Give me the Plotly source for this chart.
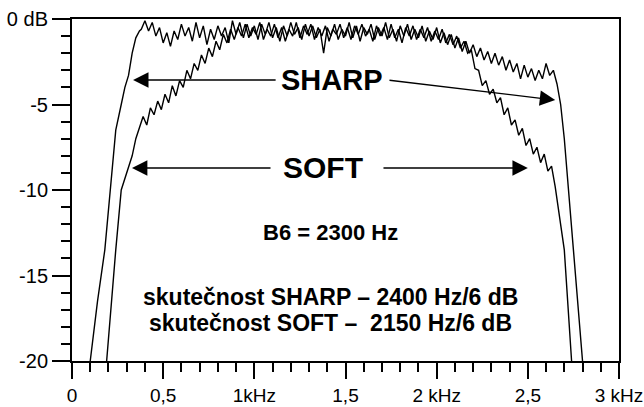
import plotly.graph_objects as go

# ---------------- data ----------------
sharp_f = [0.10, 0.14, 0.18, 0.21, 0.24, 0.27, 0.29, 0.31, 0.33, 0.35, 0.37,
           0.38, 0.40, 0.42, 0.44, 0.46, 0.48, 0.50, 0.52, 0.54, 0.56, 0.58, 0.60,
           0.62, 0.64, 0.66, 0.68, 0.70, 0.72, 0.74, 0.76, 0.78, 0.80, 0.82, 0.84,
           0.86, 0.88, 0.90, 0.92, 0.94, 0.96, 0.98, 1.00, 1.02, 1.04, 1.06, 1.08,
           1.10, 1.12, 1.14, 1.16, 1.18, 1.20, 1.22, 1.24, 1.26, 1.28, 1.30, 1.32,
           1.34, 1.36, 1.38, 1.40, 1.42, 1.44, 1.46, 1.48, 1.50, 1.52, 1.54, 1.56,
           1.58, 1.60, 1.62, 1.64, 1.66, 1.68, 1.70, 1.72, 1.74, 1.76, 1.78, 1.80,
           1.82, 1.84, 1.86, 1.88, 1.90, 1.92, 1.94, 1.96, 1.98, 2.00, 2.02, 2.04,
           2.06, 2.08, 2.10, 2.12, 2.14, 2.16, 2.18, 2.20, 2.22, 2.24, 2.26, 2.28,
           2.30, 2.32, 2.34, 2.36, 2.38, 2.40, 2.42, 2.44, 2.46, 2.48, 2.50, 2.52,
           2.54, 2.56, 2.58, 2.60, 2.62, 2.64,
           2.66, 2.68, 2.70, 2.72, 2.75, 2.80]
sharp_db = [-20.0, -16.5, -13.5, -10.0, -6.5, -5.0, -4.0, -3.3, -2.0, -1.1, -0.7,
            -0.6, -0.1, -0.7, -0.2, -1.0, -0.5, -1.4, -0.8, -1.6, -0.7, -1.2, -0.3,
            -1.0, -0.5, -1.3, -0.2, -1.1, -0.4, -1.5, -0.6, -1.2, -0.4, -1.0, -0.5,
            -1.4, -0.1, -0.9, -0.2, -1.1, -0.3, -1.0, -0.4, -1.2, -0.3, -0.9, -0.2,
            -1.1, -0.5, -1.3, -0.4, -1.0, -0.2, -0.9, -0.5, -1.2, -0.3, -1.0, -0.4,
            -1.1, -0.6, -2.0, -0.5, -1.0, -0.3, -1.2, -0.6, -1.0, -0.2, -1.1, -0.4,
            -1.3, -0.5, -0.9, -0.3, -1.2, -0.5, -1.0, -0.2, -1.1, -0.6, -1.3, -0.4,
            -1.0, -0.3, -1.2, -0.6, -1.1, -0.4, -1.3, -0.7, -1.2, -0.5, -1.4, -0.8,
            -1.5, -0.9, -1.7, -1.1, -1.9, -1.3, -2.0, -1.5, -2.2, -1.7, -2.4, -1.9,
            -2.6, -2.0, -2.7, -2.2, -3.0, -2.4, -3.1, -2.6, -3.5, -2.7, -3.4, -2.9,
            -3.6, -3.0, -3.5, -2.6, -3.3, -3.0,
            -3.8, -5.0, -7.0, -9.8, -13.5, -20.0]

soft_f = [0.19, 0.215, 0.24, 0.27, 0.30, 0.33, 0.35,
          0.37, 0.39, 0.41, 0.43, 0.45, 0.47, 0.49, 0.51, 0.53, 0.55, 0.57, 0.59,
          0.61, 0.63, 0.65, 0.67, 0.69, 0.71, 0.73, 0.75, 0.77, 0.79, 0.81, 0.83,
          0.85, 0.87, 0.89, 0.91, 0.93, 0.95, 0.97, 0.99, 1.01, 1.03, 1.05, 1.07,
          1.09, 1.11, 1.13, 1.15, 1.17, 1.19, 1.21, 1.23, 1.25, 1.27, 1.29, 1.31,
          1.33, 1.35, 1.37, 1.39, 1.41, 1.43, 1.45, 1.47, 1.49, 1.51, 1.53, 1.55,
          1.57, 1.59, 1.61, 1.63, 1.65, 1.67, 1.69, 1.71, 1.73, 1.75, 1.77, 1.79,
          1.81, 1.83, 1.85, 1.87, 1.89, 1.91, 1.93, 1.95, 1.97, 1.99, 2.01, 2.03,
          2.05, 2.07, 2.09, 2.11, 2.13, 2.15, 2.17, 2.19, 2.21, 2.23, 2.25, 2.27,
          2.29, 2.31, 2.33, 2.35, 2.37, 2.39, 2.41, 2.43, 2.45, 2.47, 2.49, 2.51,
          2.53, 2.55, 2.57, 2.59, 2.61, 2.63, 2.65,
          2.66, 2.70, 2.74]
soft_db = [-20.0, -16.5, -13.5, -10.0, -9.0, -8.0, -7.0,
           -6.4, -5.7, -6.2, -5.2, -5.6, -4.8, -5.3, -4.4, -4.9, -3.9, -4.5, -3.6,
           -4.0, -3.0, -3.5, -2.6, -3.0, -2.1, -2.6, -1.7, -2.2, -1.3, -1.8, -0.9,
           -1.4, -0.6, -1.2, -0.5, -1.0, -0.3, -1.1, -0.5, -0.9, -0.2, -1.2, -0.6,
           -1.0, -0.3, -1.1, -0.5, -1.3, -0.6, -1.0, -0.2, -1.1, -0.4, -0.9, -0.3,
           -1.2, -0.5, -1.0, -0.4, -1.3, -0.6, -0.9, -0.3, -1.1, -0.5, -1.2, -0.4,
           -0.9, -0.3, -1.0, -0.6, -1.3, -0.4, -1.0, -0.5, -1.2, -0.3, -1.1, -0.6,
           -1.4, -0.5, -1.0, -0.4, -1.2, -0.6, -1.1, -0.5, -1.3, -0.7, -1.2, -0.6,
           -1.4, -0.9, -1.5, -1.0, -1.7, -1.3, -2.0, -1.8, -2.9, -3.0, -3.9, -3.6,
           -4.4, -4.1, -4.9, -4.6, -5.6, -5.2, -6.2, -5.9, -6.8, -6.4, -7.4, -7.0,
           -7.9, -7.5, -8.4, -7.9, -8.9, -8.6, -9.8,
           -10.6, -13.5, -20.0]

x_tickvals = [0, 0.5, 1, 1.5, 2, 2.5, 3]
x_ticktext = ["0", "0,5", "1kHz", "1,5", "2 kHz", "2,5", "3 kHz"]
y_tickvals = [0, -5, -10, -15, -20]
y_ticktext = ["0 dB", "-5", "-10", "-15", "-20"]

FONT = "Liberation Sans, Arial, sans-serif"

fig = go.Figure()
fig.add_trace(go.Scatter(x=sharp_f, y=sharp_db, mode="lines",
                         line=dict(color="black", width=1.4), name="SHARP"))
fig.add_trace(go.Scatter(x=soft_f, y=soft_db, mode="lines",
                         line=dict(color="black", width=1.4), name="SOFT"))

def arrow(x_tip, y_tip, x_tail, y_tail):
    fig.add_annotation(x=x_tip, y=y_tip, ax=x_tail, ay=y_tail,
                       xref="x", yref="y", axref="x", ayref="y",
                       text="", showarrow=True, arrowhead=2, arrowsize=2.2,
                       arrowwidth=1.4, arrowcolor="black")

arrow(0.335, -3.57, 1.125, -3.57)
arrow(2.65, -4.74, 1.733, -3.57)
arrow(0.329, -8.71, 1.097, -8.71)
arrow(2.50, -8.71, 1.70, -8.71)

def label(x, y, txt, size, bold=True):
    fig.add_annotation(x=x, y=y, xref="x", yref="y", text=f"<b>{txt}</b>" if bold else txt,
                       showarrow=False, font=dict(family=FONT, size=size, color="black"))

label(1.426, -3.57, "SHARP", 29)
label(1.377, -8.71, "SOFT", 30)
label(1.415, -12.46, "B6 = 2300 Hz", 22)
label(1.415, -16.26, "skutečnost SHARP – 2400 Hz/6 dB", 23)
label(1.42, -17.78, "skutečnost SOFT –  2150 Hz/6 dB", 23)

axis_common = dict(showgrid=False, zeroline=False, showline=True, linecolor="black",
                   linewidth=2, mirror=True, ticks="outside", tickwidth=1.5,
                   tickcolor="black", automargin=False, ticklabeloverflow="allow")

fig.update_xaxes(range=[0, 3], tickvals=x_tickvals, ticktext=x_ticktext, ticklen=16,
                 tickfont=dict(family=FONT, size=19, color="black"),
                 minor=dict(ticks="outside", ticklen=9, dtick=0.1, tickwidth=1.5,
                            tickcolor="black", showgrid=False),
                 **axis_common)
fig.update_yaxes(range=[-20, 0], tickvals=y_tickvals, ticktext=y_ticktext, ticklen=18,
                 tickfont=dict(family=FONT, size=20, color="black"),
                 minor=dict(ticks="outside", ticklen=9, dtick=1, tickwidth=1.5,
                            tickcolor="black", showgrid=False),
                 **axis_common)

fig.update_layout(width=644, height=407, autosize=False,
                  margin=dict(l=72, r=25, t=19, b=46),
                  paper_bgcolor="white", plot_bgcolor="white", showlegend=False)

fig.write_html("out.html")
